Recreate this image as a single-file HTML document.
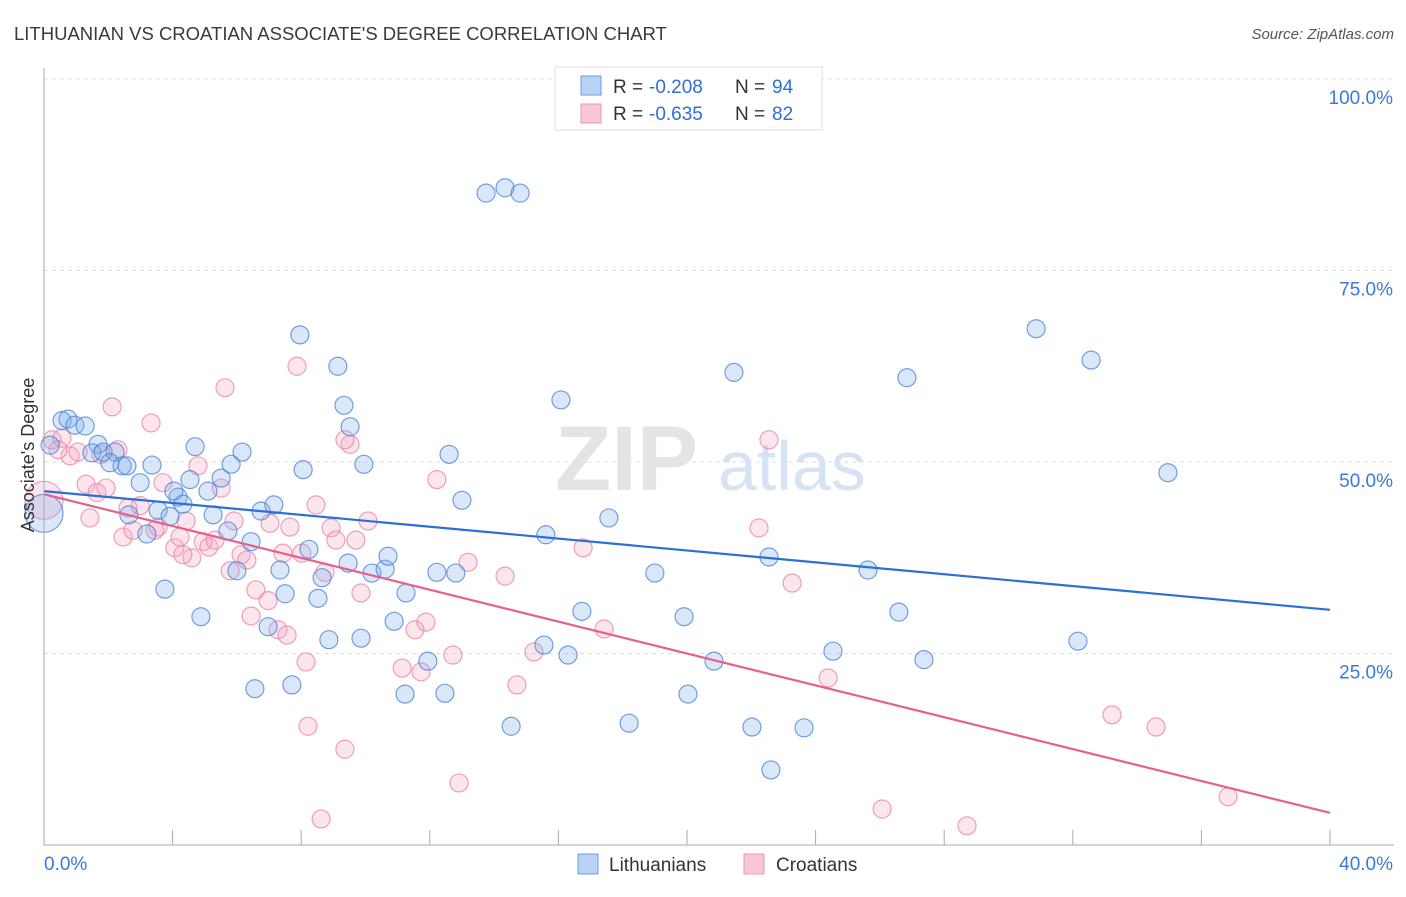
<!DOCTYPE html>
<html><head><meta charset="utf-8">
<style>
body{margin:0;background:#fff;font-family:"Liberation Sans",sans-serif;}
svg text{font-family:"Liberation Sans",sans-serif;}
</style></head>
<body>
<svg id="chart" width="1406" height="892" xmlns="http://www.w3.org/2000/svg">
<text x="14" y="40" font-size="18.5" fill="#3a3a3a">LITHUANIAN VS CROATIAN ASSOCIATE'S DEGREE CORRELATION CHART</text>
<text x="1394" y="39" font-size="15" fill="#555" font-style="italic" text-anchor="end">Source: ZipAtlas.com</text>
<g id="grid"></g>
<text x="555" y="490" font-size="92" fill="#e4e4e4" font-family="Liberation Serif" font-weight="bold">ZIP</text>
<text x="718" y="490" font-size="70" fill="#d5e3f5">atlas</text>
<g id="points"></g>
<g id="lines"></g>
<text transform="translate(34,455) rotate(-90)" font-size="18" fill="#333" text-anchor="middle">Associate's Degree</text>
<g id="ticks"></g>
<g>
<rect x="555" y="67" width="267" height="63" fill="#fff" stroke="#ddd"/>
<rect x="581" y="76" width="20" height="19" fill="#b8d3f5" stroke="#6a9be0"/>
<rect x="581" y="104" width="20" height="19" fill="#fac7d6" stroke="#eb97b1"/>
<text x="613" y="93" font-size="19" fill="#333">R = </text>
<text x="649" y="93" font-size="19" fill="#2f6fd6">-0.208</text>
<text x="735" y="93" font-size="19" fill="#333">N = </text>
<text x="772" y="93" font-size="19" fill="#2f6fd6">94</text>
<text x="613" y="120" font-size="19" fill="#333">R = </text>
<text x="649" y="120" font-size="19" fill="#2f6fd6">-0.635</text>
<text x="735" y="120" font-size="19" fill="#333">N = </text>
<text x="772" y="120" font-size="19" fill="#2f6fd6">82</text>
</g>
<g>
<rect x="578" y="854" width="20" height="20" fill="#b8d3f5" stroke="#6a9be0"/>
<text x="609" y="871" font-size="19" fill="#333">Lithuanians</text>
<rect x="744" y="854" width="20" height="20" fill="#fac7d6" stroke="#eb97b1"/>
<text x="776" y="871" font-size="19" fill="#333">Croatians</text>
</g>
</svg>
<script>
const blueX=[0.56,0.75,0.96,1.28,1.68,1.49,1.84,2.21,2.05,2.43,2.58,3.36,2.99,4.17,4.32,4.54,4.70,5.10,5.51,5.82,6.16,3.55,3.92,3.20,3.76,4.88,5.26,5.72,6.44,6.00,6.75,7.15,7.34,7.50,7.96,8.06,8.24,8.52,8.65,8.86,9.14,9.33,9.52,9.46,9.95,9.86,10.20,10.61,10.70,10.89,11.26,11.94,11.23,12.47,12.22,12.60,12.81,13.00,13.75,14.34,14.81,14.53,15.61,15.55,16.30,16.08,16.73,17.57,18.20,19.00,19.91,20.03,20.84,21.46,22.02,22.61,22.55,23.64,24.54,25.63,26.59,26.84,27.37,30.86,32.57,32.16,34.96,6.56,7.71,6.97,0,0.19,2.64,4.04];
const blueY=[55.4,55.6,54.8,54.7,52.3,51.2,51.3,51.3,49.9,49.5,49.5,49.6,47.3,45.4,44.5,47.7,52.0,46.2,47.9,49.7,51.3,43.7,42.9,40.6,33.4,29.8,43.1,41.0,39.6,35.8,43.6,44.4,35.9,32.8,66.6,49.0,38.6,32.2,34.9,26.8,62.5,57.4,54.6,36.8,49.7,27.0,35.5,36.0,37.7,29.2,32.9,24.0,19.7,19.8,35.6,51.0,35.5,45.0,85.1,85.8,85.1,15.5,40.5,26.1,24.8,58.1,30.5,42.7,15.9,35.5,29.8,19.7,24.0,61.7,15.4,9.8,37.6,15.3,25.3,35.9,30.4,61.0,24.2,67.4,63.3,26.6,48.6,20.4,20.9,28.5,43.3,52.2,43.1,46.2];
const blueBig=[90];
const pinkX=[0.25,0.56,0.81,1.06,2.12,2.30,1.77,1.31,1.43,1.65,1.93,2.46,2.77,2.99,3.33,3.55,3.70,4.07,4.42,4.23,4.60,4.79,4.95,5.13,5.51,5.63,5.79,5.91,6.13,6.31,6.44,6.59,6.97,7.03,7.28,7.43,7.65,7.87,8.15,8.21,8.46,8.62,8.74,8.93,9.08,9.36,9.52,9.70,9.86,10.08,11.14,11.54,11.73,11.88,12.22,12.72,12.91,13.19,14.34,14.71,15.24,16.77,17.42,22.24,22.55,23.27,24.39,26.07,28.71,33.22,34.59,36.83,0,0.44,2.61,3.45,5.32,7.56,9.36,8.02,4.32];
const pinkY=[52.9,53.1,50.8,51.3,57.2,51.6,51.0,47.1,42.7,46.0,46.6,40.2,41.1,44.3,55.1,41.5,47.3,38.8,42.3,40.2,37.5,49.5,39.6,38.9,46.6,59.7,35.8,42.3,37.9,37.2,29.9,33.3,31.9,42.0,28.1,38.1,41.5,62.5,23.9,15.5,44.4,3.4,35.6,41.4,39.8,12.5,52.3,39.8,32.9,42.3,23.1,28.1,22.6,29.1,47.7,24.8,8.1,36.9,35.1,20.9,25.2,38.8,28.2,41.4,52.9,34.2,21.8,4.7,2.5,17.0,15.4,6.3,45.0,51.6,44.0,41.1,39.8,27.4,52.9,38.1,37.9];
const pinkBig=[72];
const blueTrend=[46.2,30.7];
const pinkTrend=[45.8,4.2];
const yTicks=[25,50,75,100];
const xTickVals=[0,4,8,12,16,20,24,28,32,36,40];

const NS="http://www.w3.org/2000/svg";
const X0=44,X1=1330,Y0=845,Y1=79;
function sx(v){return X0+(v/40)*(X1-X0);}
function sy(v){return Y0-(v/100)*(Y0-Y1);}
function mk(tag,attrs,parent){const e=document.createElementNS(NS,tag);for(const k in attrs)e.setAttribute(k,attrs[k]);parent.appendChild(e);return e;}

const grid=document.getElementById('grid');
yTicks.forEach(t=>{
  const l=mk('line',{x1:X0,x2:1394,y1:sy(t),y2:sy(t),stroke:'#dedede','stroke-dasharray':'4,4'},grid);
  
  
});
const ticks=document.getElementById('ticks');
const ax=mk('line',{x1:X0,x2:X0,y1:68,y2:Y0,stroke:'#aaa'},ticks);


const bx=mk('line',{x1:X0,x2:1394,y1:Y0,y2:Y0,stroke:'#aaa'},ticks);


xTickVals.forEach(t=>{
  const l=mk('line',{x1:sx(t),x2:sx(t),y1:Y0-15,y2:Y0,stroke:'#aaa'},ticks);
  
  
});
yTicks.forEach(t=>{
  const tx=mk('text',{x:1393,y:sy(t)+25,'font-size':19,fill:'#3b78d8','text-anchor':'end'},ticks);
  tx.textContent=t.toFixed(1)+'%';
  
  
});
const xl0=mk('text',{x:44,y:870,'font-size':19,fill:'#3b78d8'},ticks);
xl0.textContent='0.0%';


const xl1=mk('text',{x:1393,y:870,'font-size':19,fill:'#3b78d8','text-anchor':'end'},ticks);
xl1.textContent='40.0%';



const pts=document.getElementById('points');
function drawSeries(xs,ys,big,fill,stroke,name){
  xs.forEach((x,i)=>{
    const r=big.includes(i)?19:9;
    const c=mk('circle',{cx:sx(x),cy:sy(ys[i]),r:r,fill:fill,stroke:stroke,'stroke-width':1.2},pts);
    
    
  });
}
drawSeries(pinkX,pinkY,pinkBig,'rgba(246,170,195,0.3)','rgba(232,130,165,0.75)','croatian-point');
drawSeries(blueX,blueY,blueBig,'rgba(130,175,235,0.3)','rgba(70,130,215,0.75)','lithuanian-point');

const lines=document.getElementById('lines');
const bl=mk('line',{x1:sx(0),y1:sy(blueTrend[0]),x2:sx(40),y2:sy(blueTrend[1]),stroke:'#2c6fd6','stroke-width':2.2},lines);


const pl=mk('line',{x1:sx(0),y1:sy(pinkTrend[0]),x2:sx(40),y2:sy(pinkTrend[1]),stroke:'#e5608d','stroke-width':2.2},lines);


</script>
</body></html>
